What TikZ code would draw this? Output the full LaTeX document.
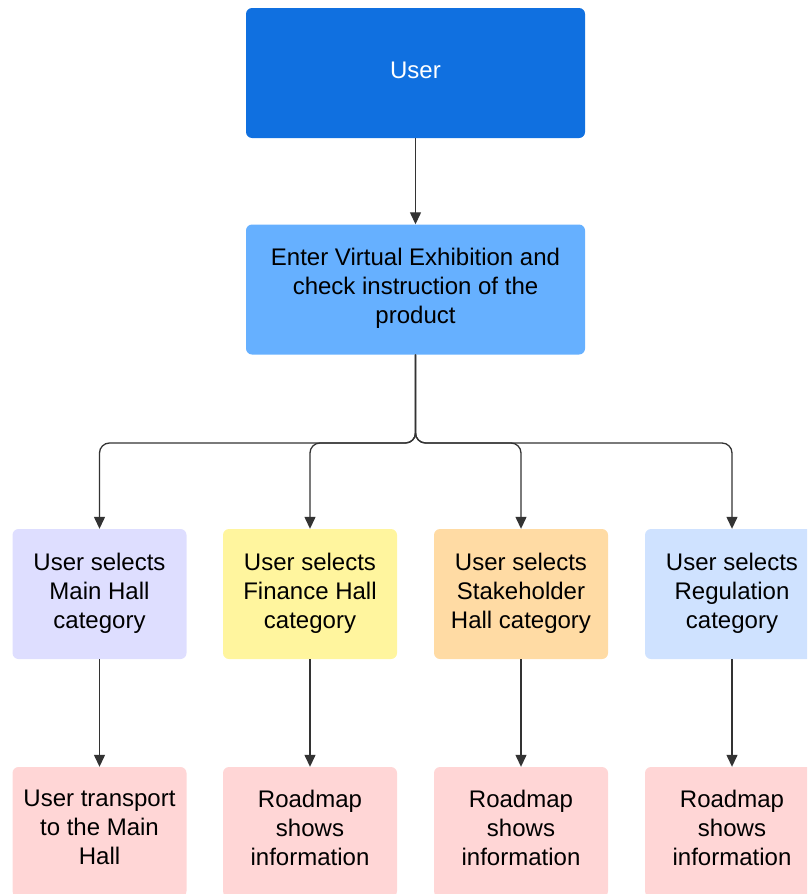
\documentclass[tikz,border=0pt]{standalone}
\usepackage{fontspec}
\setmainfont{Liberation Sans}
\usetikzlibrary{arrows.meta}
\definecolor{userblue}{HTML}{1070E0}
\definecolor{enterblue}{HTML}{66B0FF}
\definecolor{mainhall}{HTML}{DEDEFF}
\definecolor{finance}{HTML}{FFF59E}
\definecolor{stake}{HTML}{FFDBA4}
\definecolor{regul}{HTML}{CFE2FF}
\definecolor{result}{HTML}{FFD6D6}
\definecolor{wire}{HTML}{333333}
\tikzset{
  box/.style={rounded corners=6pt, inner sep=0pt, align=center,
    font=\fontsize{24}{29}\selectfont, text=black},
  % raise the text block inside its box by half the given amount
  lift/.style={execute at end node={\rule[-#1]{0pt}{#1}}},
  widebox/.style={box, minimum width=339pt, minimum height=130pt},
  catbox/.style={box, minimum width=174pt, minimum height=130pt},
  arr/.style={draw=wire, line width=1.3pt,
    -{Triangle[length=12pt,width=11pt]}, rounded corners=10pt}
}
\begin{document}
\begin{tikzpicture}[x=1pt,y=-1pt]
  \useasboundingbox (0,0) rectangle (807,894);
  \clip (0,0) rectangle (807,894);

  % top of the flow
  \node[widebox, fill=userblue, text=white, lift=6pt] (user) at (415.5,73) {User};
  \node[widebox, fill=enterblue, lift=8pt] (enter) at (415.5,289.5)
    {Enter Virtual Exhibition and\\check instruction of the\\product};

  % hall categories
  \node[catbox, fill=mainhall, lift=6pt] (main) at (99.5,594) {User selects\\Main Hall\\category};
  \node[catbox, fill=finance, lift=6pt]  (fin)  at (310,594)  {User selects\\Finance Hall\\category};
  \node[catbox, fill=stake, lift=6pt]    (stk)  at (521,594)  {User selects\\Stakeholder\\Hall category};
  \node[catbox, fill=regul, lift=6pt]    (reg)  at (732,594)  {User selects\\Regulation\\category};

  % outcomes
  \node[catbox, fill=result, lift=9pt] (mainres) at (99.5,832) {User transport\\to the Main\\Hall};
  \node[catbox, fill=result, lift=9pt] (finres)  at (310,832)  {Roadmap\\shows\\information};
  \node[catbox, fill=result, lift=9pt] (stkres)  at (521,832)  {Roadmap\\shows\\information};
  \node[catbox, fill=result, lift=9pt] (regres)  at (732,832)  {Roadmap\\shows\\information};

  % connectors
  \coordinate (split) at (415.5,443);
  \draw[arr] (user) -- (enter);
  \draw[arr] (enter.south) -- (split) -| (main.north);
  \draw[arr] (enter.south) -- (split) -| (fin.north);
  \draw[arr] (enter.south) -- (split) -| (stk.north);
  \draw[arr] (enter.south) -- (split) -| (reg.north);
  \draw[arr] (main) -- (mainres);
  \draw[arr] (fin) -- (finres);
  \draw[arr] (stk) -- (stkres);
  \draw[arr] (reg) -- (regres);
\end{tikzpicture}
\end{document}
